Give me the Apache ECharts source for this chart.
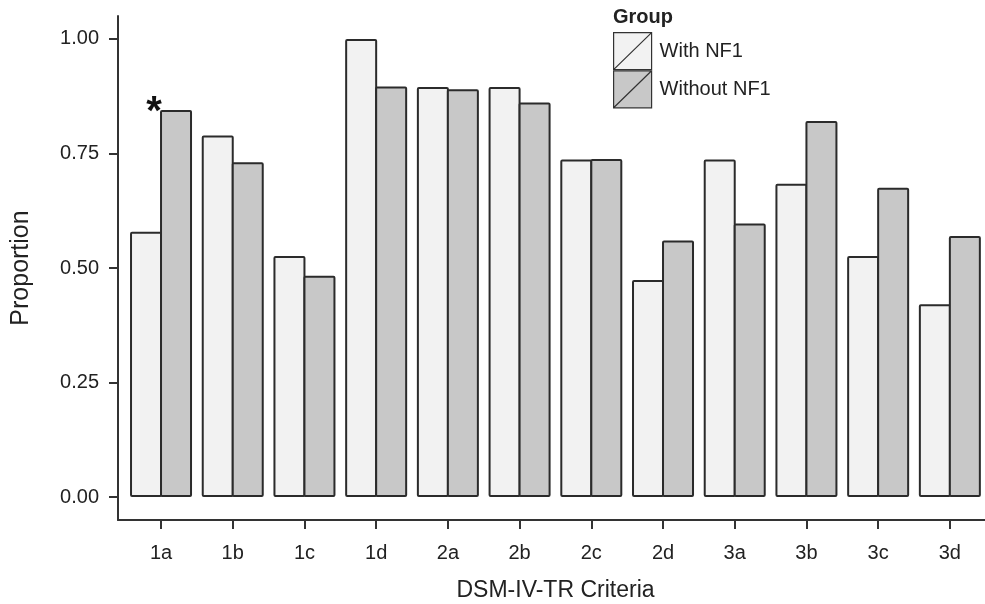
<!DOCTYPE html>
<html>
<head>
<meta charset="utf-8">
<script src="https://cdn.jsdelivr.net/npm/echarts@6/dist/echarts.min.js"></script>
<style>
  html, body { margin: 0; padding: 0; background: #fff; }
  #main { width: 985px; height: 604px; }
</style>
</head>
<body>
<div id="main"></div>
<script>
// categories and proportions
const criteria = ['1a', '1b', '1c', '1d', '2a', '2b', '2c', '2d', '3a', '3b', '3c', '3d'];
const withNF1 = [0.579, 0.789, 0.526, 1.0, 0.895, 0.895, 0.737, 0.474, 0.737, 0.684, 0.526, 0.421];
const withoutNF1 = [0.845, 0.731, 0.483, 0.896, 0.890, 0.861, 0.738, 0.560, 0.597, 0.821, 0.675, 0.570];
const yTicks = [0, 0.25, 0.5, 0.75, 1];
const starred = ['1a'];

const font = 'Liberation Sans';
const ink = '#222';
const axisColor = '#333';

const chart = echarts.init(document.getElementById('main'));

function toPoints(vals) {
    return vals.map((v, i) => [i + 1, v]);
}

const catTicks = criteria.map((c, i) => i + 1);

// box with a diagonal, like the ggplot key
const legendIcon = 'path://M0,0H38V37H0Z M0,37L38,0';

const option = {
    animation: false,
    backgroundColor: '#fff',
    textStyle: { fontFamily: font },
    title: {
        text: 'Group',
        left: 613,
        top: 7,
        padding: 0,
        textStyle: { fontFamily: font, fontSize: 20, fontWeight: 'bold', color: ink }
    },
    legend: {
        orient: 'vertical',
        left: 613,
        top: 32,
        padding: 0,
        itemGap: 0,
        itemWidth: 38,
        itemHeight: 37,
        icon: legendIcon,
        itemStyle: { borderColor: '#333', borderWidth: 1.2 },
        textStyle: { fontFamily: font, fontSize: 20, color: ink, padding: [0, 0, 0, 3] },
        data: ['With NF1', 'Without NF1']
    },
    grid: {
        left: 118,
        right: 0,
        top: 16,
        bottom: 84,
        containLabel: false,
        outerBoundsMode: 'none'
    },
    xAxis: {
        type: 'value',
        min: 0.4,
        max: 12.49,
        name: 'DSM-IV-TR Criteria',
        nameLocation: 'middle',
        nameGap: 59,
        nameTextStyle: { fontFamily: font, fontSize: 23, color: ink, padding: [0, 0, 0, 8] },
        splitLine: { show: false },
        axisLine: { show: true, onZero: false, lineStyle: { color: axisColor, width: 2 } },
        axisTick: { show: true, length: 9, customValues: catTicks, lineStyle: { color: axisColor, width: 2 } },
        axisLabel: {
            customValues: catTicks,
            margin: 23,
            fontSize: 20,
            color: ink,
            formatter: v => criteria[Math.round(v) - 1] || ''
        }
    },
    yAxis: {
        type: 'value',
        min: -0.05,
        max: 1.05,
        name: 'Proportion',
        nameLocation: 'middle',
        nameGap: 84,
        nameTextStyle: { fontFamily: font, fontSize: 25, color: ink },
        splitLine: { show: false },
        axisLine: { show: true, lineStyle: { color: axisColor, width: 2 } },
        axisTick: { show: true, length: 9, customValues: yTicks, lineStyle: { color: axisColor, width: 2 } },
        axisLabel: {
            customValues: yTicks,
            margin: 19,
            fontSize: 20,
            color: ink,
            formatter: v => v.toFixed(2)
        }
    },
    series: [
        {
            name: 'With NF1',
            type: 'bar',
            barWidth: 32,
            barGap: '-6.25%',
            data: toPoints(withNF1),
            itemStyle: { color: '#f2f2f2', borderColor: '#2b2b2b', borderWidth: 2, borderRadius: 1 }
        },
        {
            name: 'Without NF1',
            type: 'bar',
            barWidth: 32,
            barGap: '-6.25%',
            data: toPoints(withoutNF1),
            itemStyle: { color: '#c8c8c8', borderColor: '#2b2b2b', borderWidth: 2, borderRadius: 1 },
            markPoint: {
                symbol: 'circle',
                symbolSize: 0,
                data: starred.map(c => ({
                    coord: [criteria.indexOf(c) + 1, withoutNF1[criteria.indexOf(c)]],
                    label: {
                        show: true,
                        formatter: '*',
                        fontFamily: font,
                        fontSize: 40,
                        fontWeight: 'bold',
                        color: '#111',
                        offset: [-22, 3]
                    }
                }))
            }
        }
    ]
};

chart.setOption(option);
</script>
</body>
</html>
